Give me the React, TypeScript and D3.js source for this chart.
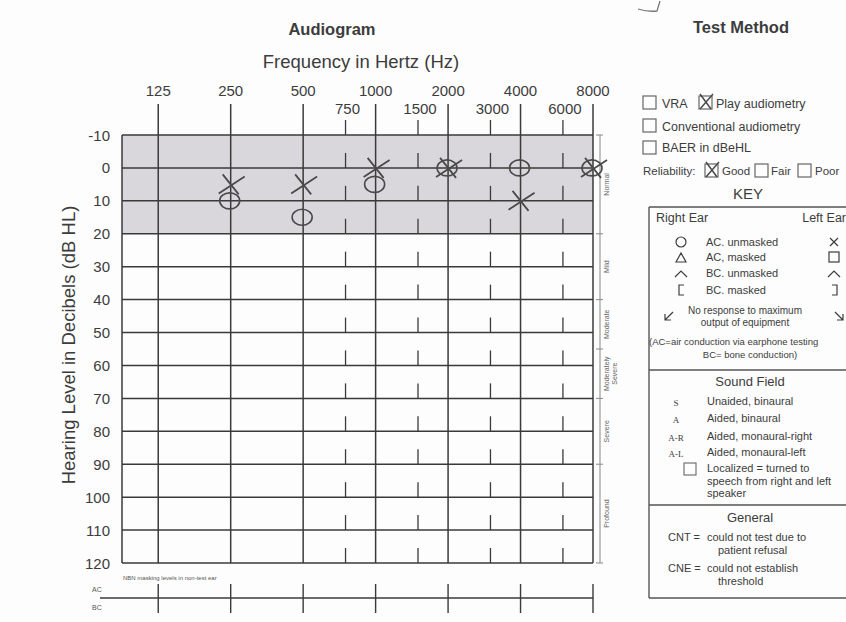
import React from 'react';
import * as d3 from 'd3';

// frequency axis
const majorFreqs = [125, 250, 500, 1000, 2000, 4000, 8000];
const minorFreqs = [750, 1500, 3000, 6000];
const dbTicks = [-10, 0, 10, 20, 30, 40, 50, 60, 70, 80, 90, 100, 110, 120];

// handwritten thresholds
const leftEarFreqs = [250, 500, 1000, 2000, 4000, 8000];
const leftEarDb = [5, 5, 0, 0, 10, 0];
const rightEarFreqs = [250, 500, 1000, 2000, 4000, 8000];
const rightEarDb = [10, 15, 5, 0, 0, 0];

// degree of loss bands on the right edge
const bandNames = ['Normal', 'Mild', 'Moderate', 'Moderately|Severe', 'Severe', 'Profound'];
const bandFrom = [-10, 20, 40, 55, 70, 90];
const bandTo = [20, 40, 55, 70, 90, 120];

const W = 846;
const H = 622;
const FONT = "'Liberation Sans', Arial, sans-serif";
const SERIF = "'Liberation Serif', 'Times New Roman', serif";
const ink = '#3a3a3a';
const txt = '#3c3c3c';
const pen = '#4a4a4a';

const x = d3.scaleLog().base(2).domain([125 / Math.SQRT2, 8000]).range([122, 593]);
const y = d3.scaleLinear().domain([-10, 120]).range([135, 563]);

const Check = ({ bx, by }: { bx: number; by: number }) => (
  <g>
    <rect x={bx} y={by} width={13} height={13} fill="none" stroke="#666" strokeWidth={1.2} />
    <path d={`M${bx + 1} ${by - 2} L${bx + 12} ${by + 13} M${bx + 1} ${by + 13} L${bx + 14} ${by - 2}`}
      stroke={pen} strokeWidth={1.5} fill="none" />
  </g>
);

const Box = ({ bx, by }: { bx: number; by: number }) => (
  <rect x={bx} y={by} width={13} height={13} fill="none" stroke="#666" strokeWidth={1.2} />
);

export default function App() {
  const x0 = x.range()[0];
  const x1 = x.range()[1];
  const yTop = y(-10);
  const yBot = y(120);

  return (
    <svg width={W} height={H} viewBox={`0 0 ${W} ${H}`}
      style={{ position: 'absolute', left: 0, top: 0, background: '#fdfdfd', fontFamily: FONT }}>
      <rect width={W} height={H} fill="#fdfdfd" />

      {/* titles */}
      <text x={332} y={35} textAnchor="middle" fontSize={16.5} fontWeight={700} fill={txt}>Audiogram</text>
      <text x={361} y={68} textAnchor="middle" fontSize={18.5} fill={txt}>Frequency in Hertz (Hz)</text>
      <text x={741} y={33} textAnchor="middle" fontSize={16.5} fontWeight={700} fill={txt}>Test Method</text>
      <text transform={`translate(75,345) rotate(-90)`} textAnchor="middle"
        fontSize={18.5} fill={txt}>Hearing Level in Decibels (dB HL)</text>

      {/* stray pen mark */}
      <path d="M660 1 L657 11 Q648 12 638 9" stroke="#777" strokeWidth={1.3} fill="none" />

      {/* normal range shading */}
      <rect x={x0} y={y(-10)} width={x1 - x0} height={y(20) - y(-10)} fill="#d9d7db" />

      {/* frequency labels */}
      {majorFreqs.map(f => (
        <text key={'fl' + f} x={x(f)} y={96} textAnchor="middle" fontSize={15} fill={txt}>{f}</text>
      ))}
      {minorFreqs.map(f => (
        <text key={'fm' + f} x={x(f) + 2} y={114} textAnchor="middle" fontSize={15} fill={txt}>{f}</text>
      ))}

      {/* horizontal grid */}
      {dbTicks.map(v => (
        <line key={'h' + v} x1={x0} x2={x1} y1={y(v)} y2={y(v)} stroke={ink} strokeWidth={1.5} />
      ))}
      {dbTicks.map(v => (
        <text key={'yl' + v} x={110} y={y(v)} textAnchor="end" dominantBaseline="central"
          fontSize={15} fill={txt}>{v}</text>
      ))}

      {/* vertical lines */}
      <line x1={x0} x2={x0} y1={yTop} y2={yBot} stroke={ink} strokeWidth={1.5} />
      {majorFreqs.map(f => (
        <line key={'v' + f} x1={x(f)} x2={x(f)} y1={104} y2={yBot} stroke={ink} strokeWidth={1.5} />
      ))}
      {minorFreqs.map(f => (
        <g key={'mt' + f}>
          <line x1={x(f)} x2={x(f)} y1={120} y2={yTop} stroke={ink} strokeWidth={1.3} />
          {dbTicks.slice(1).map(v => (
            <line key={v} x1={x(f)} x2={x(f)} y1={y(v) - 15} y2={y(v)} stroke={ink} strokeWidth={1.3} />
          ))}
        </g>
      ))}

      {/* degree of loss scale */}
      <line x1={600} x2={600} y1={yTop} y2={yBot} stroke="#888" strokeWidth={1} />
      {bandFrom.concat([120]).map((v, i) => (
        <line key={'bt' + i} x1={596} x2={603} y1={y(v)} y2={y(v)} stroke="#888" strokeWidth={1} />
      ))}
      {bandNames.map((n, i) => {
        const cy = (y(bandFrom[i]) + y(bandTo[i])) / 2;
        const parts = n.split('|');
        return parts.map((p, j) => (
          <text key={n + j} transform={`translate(${609 + j * 8},${cy}) rotate(-90)`} textAnchor="middle"
            fontSize={7} fill="#666">{p}</text>
        ));
      })}

      {/* masking rows */}
      <text x={123} y={580} fontSize={6} fill="#555">NBN masking levels in non-test ear</text>
      <text x={92} y={592} fontSize={7} fill="#555">AC</text>
      <text x={92} y={610} fontSize={7} fill="#555">BC</text>
      <line x1={100} x2={x1} y1={598} y2={598} stroke={ink} strokeWidth={1.4} />
      {majorFreqs.map(f => (
        <line key={'nb' + f} x1={x(f)} x2={x(f)} y1={584} y2={613} stroke={ink} strokeWidth={1.4} />
      ))}

      {/* right ear, O */}
      {rightEarFreqs.map((f, i) => (
        <ellipse key={'o' + f} cx={x(f) - 1} cy={y(rightEarDb[i])} rx={10} ry={8}
          fill="none" stroke={pen} strokeWidth={1.6} />
      ))}
      {/* left ear, X */}
      {leftEarFreqs.map((f, i) => {
        const cx = x(f);
        const cy = y(leftEarDb[i]);
        return (
          <path key={'x' + f}
            d={`M${cx - 12} ${cy + 9} L${cx + 14} ${cy - 8} M${cx - 8} ${cy - 10} L${cx + 8} ${cy + 10}`}
            stroke={pen} strokeWidth={1.8} fill="none" />
        );
      })}

      {/* test method */}
      <g fontSize={12.5} fill={txt}>
        <Box bx={643} by={96} />
        <text x={662} y={108}>VRA</text>
        <Check bx={699} by={96} />
        <text x={716} y={108}>Play audiometry</text>
        <Box bx={643} by={119} />
        <text x={662} y={131}>Conventional audiometry</text>
        <Box bx={643} by={141} />
        <text x={662} y={152}>BAER in dBeHL</text>
        <text x={643} y={175} fontSize={11.5}>Reliability:</text>
        <Check bx={705} by={164} />
        <text x={722} y={175} fontSize={11.5}>Good</text>
        <Box bx={755} by={164} />
        <text x={771} y={175} fontSize={11.5}>Fair</text>
        <Box bx={798} by={164} />
        <text x={815} y={175} fontSize={11.5}>Poor</text>
      </g>
      <text x={748} y={199} textAnchor="middle" fontSize={15} fill={txt}>KEY</text>

      {/* key box */}
      <g stroke="#555" strokeWidth={1.4} fill="none">
        <line x1={649} x2={W} y1={207} y2={207} />
        <line x1={649} x2={649} y1={207} y2={598} />
        <line x1={649} x2={W} y1={370} y2={370} />
        <line x1={649} x2={W} y1={505} y2={505} />
        <line x1={649} x2={W} y1={598} y2={598} />
      </g>
      <g fontSize={11} fill={txt}>
        <text x={656} y={222} fontSize={12.5}>Right Ear</text>
        <text x={846} y={222} fontSize={12.5} textAnchor="end">Left Ear</text>
        <circle cx={681} cy={242} r={5} fill="none" stroke={txt} strokeWidth={1.2} />
        <text x={706} y={246}>AC. unmasked</text>
        <path d="M830 238 L838 246 M838 238 L830 246" stroke={txt} strokeWidth={1.2} />
        <path d="M676 262 L681 253 L686 262 Z" fill="none" stroke={txt} strokeWidth={1.2} />
        <text x={706} y={261}>AC, masked</text>
        <rect x={829} y={252} width={10} height={10} fill="none" stroke={txt} strokeWidth={1.2} />
        <path d="M675 277 L681 271 L687 277" fill="none" stroke={txt} strokeWidth={1.2} />
        <text x={706} y={277}>BC. unmasked</text>
        <path d="M828 277 L834 271 L840 277" fill="none" stroke={txt} strokeWidth={1.2} />
        <path d="M684 285 L679 285 L679 295 L684 295" fill="none" stroke={txt} strokeWidth={1.2} />
        <text x={706} y={294}>BC. masked</text>
        <path d="M832 285 L837 285 L837 295 L832 295" fill="none" stroke={txt} strokeWidth={1.2} />
        <path d="M673 312 L665 320 M665 314 L665 320 L671 320" fill="none" stroke={txt} strokeWidth={1.2} />
        <text x={745} y={314} textAnchor="middle" fontSize={10}>No response to maximum</text>
        <text x={745} y={326} textAnchor="middle" fontSize={10}>output of equipment</text>
        <path d="M835 312 L843 320 M843 314 L843 320 L837 320" fill="none" stroke={txt} strokeWidth={1.2} />
        <text x={649} y={345} fontSize={9.5}>(AC=air conduction via earphone testing</text>
        <text x={750} y={358} fontSize={9.5} textAnchor="middle">BC= bone conduction)</text>

        <text x={750} y={386} textAnchor="middle" fontSize={13}>Sound Field</text>
        <text x={676} y={406} fontSize={9} fontFamily={SERIF} textAnchor="middle">S</text>
        <text x={707} y={405}>Unaided, binaural</text>
        <text x={676} y={423} fontSize={9} fontFamily={SERIF} textAnchor="middle">A</text>
        <text x={707} y={422}>Aided, binaural</text>
        <text x={676} y={441} fontSize={9} fontFamily={SERIF} textAnchor="middle">A-R</text>
        <text x={707} y={440}>Aided, monaural-right</text>
        <text x={676} y={457} fontSize={9} fontFamily={SERIF} textAnchor="middle">A-L</text>
        <text x={707} y={456}>Aided, monaural-left</text>
        <rect x={684} y={463} width={12} height={12} fill="none" stroke="#666" strokeWidth={1.1} />
        <text x={707} y={472}>Localized = turned to</text>
        <text x={707} y={485}>speech from right and left</text>
        <text x={707} y={497}>speaker</text>

        <text x={750} y={522} textAnchor="middle" fontSize={13}>General</text>
        <text x={668} y={541}>CNT =</text>
        <text x={707} y={541}>could not test due to</text>
        <text x={718} y={554}>patient refusal</text>
        <text x={668} y={572}>CNE =</text>
        <text x={707} y={572}>could not establish</text>
        <text x={718} y={585}>threshold</text>
      </g>
    </svg>
  );
}
